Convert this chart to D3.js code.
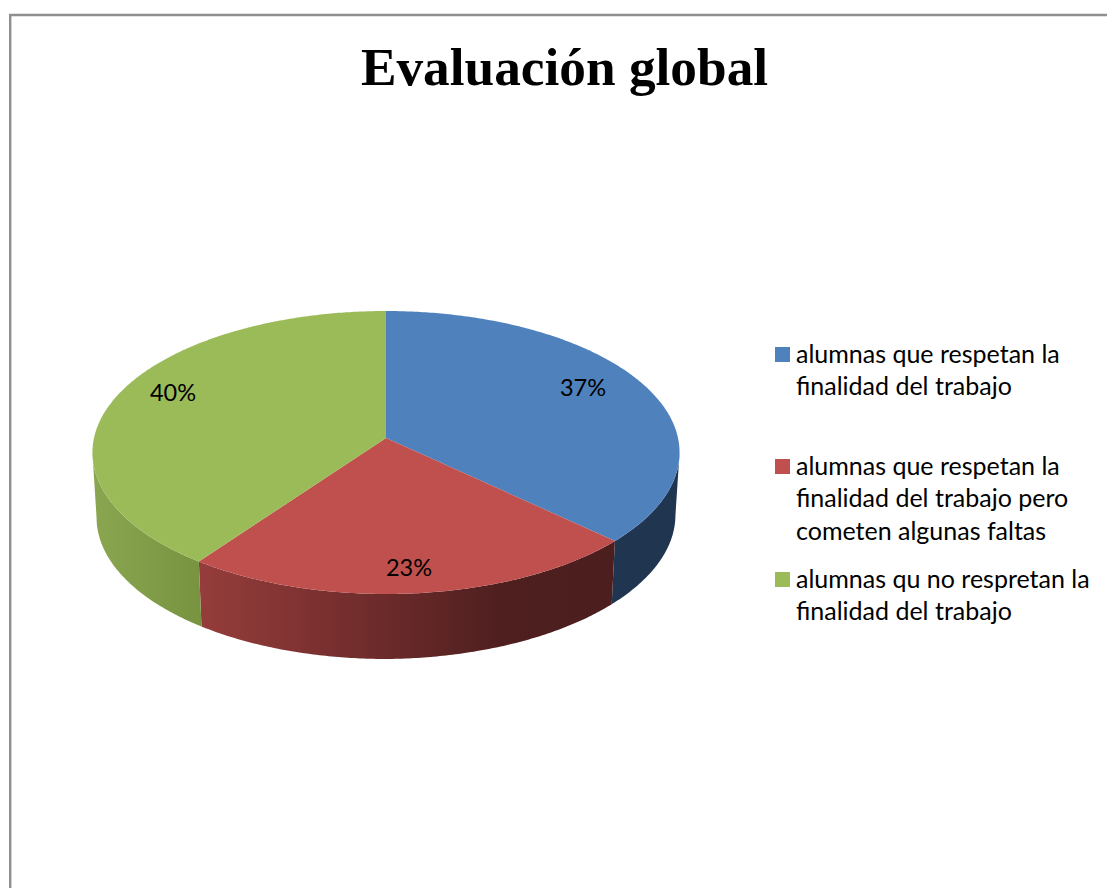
<!DOCTYPE html>
<html>
<head>
<meta charset="utf-8">
<script src="https://cdn.jsdelivr.net/npm/d3@7"></script>
<style>
    html, body { margin: 0; padding: 0; background: #fff; }
    svg { display: block; }
    .legend-text { font-family: Lato, sans-serif; font-size: 25px; fill: #000; }
    .pct { font-family: Lato, sans-serif; font-size: 23.5px; fill: #000; text-anchor: middle; }
    .title { font-family: "Liberation Serif", serif; font-weight: bold; font-size: 53.3px; text-anchor: middle; fill: #000; }
</style>
</head>
<body>
<div id="chart-container"></div>
<script>
// data
const categories = [
    ["alumnas que respetan la", "finalidad del trabajo"],
    ["alumnas que respetan la", "finalidad del trabajo pero", "cometen algunas faltas"],
    ["alumnas qu no respretan la", "finalidad del trabajo"]
];
const values = [37, 23, 40];
const colors = ["#4f81bd", "#c0504d", "#9bbb59"];
const sideStops = [
    [[0, "#1f3550"], [1, "#1f3550"]],
    [[0, "#953d3b"], [0.45, "#6c2a2a"], [0.72, "#4f1f1f"], [1, "#4c1e1e"]],
    [[0, "#8ba651"], [1, "#789440"]]
];
const labelPos = [[583, 396], [409, 576], [173, 401]];
const legendBaselines = [[362.5, 394.5], [474.5, 506.5, 539.5], [587.5, 619.5]];

const width = 1107, height = 888;
const cx = 386, cy = 438;
const a = 292, b = 140, k = 0.1025;   // perspective of the disc
const shrink = 0.986, depth = 65;

const svg = d3.select("#chart-container").append("svg")
    .attr("width", width)
    .attr("height", height);

// frame
svg.append("path")
    .attr("d", `M10.2,${height}V15H${width}`)
    .attr("fill", "none")
    .attr("stroke", "#8f8f8f")
    .attr("stroke-width", 2.4);

svg.append("text")
    .attr("class", "title")
    .attr("x", 564.5)
    .attr("y", 85)
    .text("Evaluación global");

// angle is clockwise from the top
function topPoint(t) {
    const u = Math.sin(t), w = -Math.cos(t);
    const p = 1 - k * w;
    return [cx + a * u / p, cy + b * w / p];
}
function bottomPoint(t) {
    const q = topPoint(t);
    const h = depth - 2.5 * Math.max(0, Math.sin(t));
    return [cx + (q[0] - cx) * shrink, q[1] + h];
}

const pie = d3.pie().sort(null);
const slices = pie(values);
const line = d3.line();

function arcAngles(s) {
    const n = Math.ceil((s.endAngle - s.startAngle) / 0.01);
    return d3.range(n + 1).map(i => s.startAngle + (s.endAngle - s.startAngle) * i / n);
}
// the wall is seen from the widest point of the disc forward
function frontAngles(s) {
    return arcAngles(s).filter(t => -Math.cos(t) >= k);
}

const defs = svg.append("defs");
sideStops.forEach((stops, i) => {
    const xs = d3.extent(frontAngles(slices[i]), t => topPoint(t)[0]);
    const grad = defs.append("linearGradient")
        .attr("id", "side" + i)
        .attr("gradientUnits", "userSpaceOnUse")
        .attr("x1", xs[0]).attr("x2", xs[1])
        .attr("y1", 0).attr("y2", 0);
    stops.forEach(s => {
        grad.append("stop").attr("offset", s[0]).attr("stop-color", s[1]);
    });
});

// sides first, tops over them
svg.append("g").selectAll("path")
    .data(slices)
    .enter()
    .append("path")
    .attr("d", s => {
        const ts = frontAngles(s);
        return line(ts.map(topPoint).concat(ts.slice().reverse().map(bottomPoint))) + "Z";
    })
    .attr("fill", (s, i) => `url(#side${i})`);

svg.append("g").selectAll("path")
    .data(slices)
    .enter()
    .append("path")
    .attr("d", s => line([[cx, cy]].concat(arcAngles(s).map(topPoint))) + "Z")
    .attr("fill", (s, i) => colors[i]);

// percent labels
svg.append("g").selectAll("text")
    .data(values)
    .enter()
    .append("text")
    .attr("class", "pct")
    .attr("x", (d, i) => labelPos[i][0])
    .attr("y", (d, i) => labelPos[i][1])
    .text(d => d + "%");

// legend
categories.forEach((lines, i) => {
    const g = svg.append("g");
    g.append("rect")
        .attr("x", 775)
        .attr("y", Math.floor(legendBaselines[i][0]) - 15)
        .attr("width", 15)
        .attr("height", 15)
        .attr("fill", colors[i]);
    lines.forEach((txt, j) => {
        g.append("text")
            .attr("class", "legend-text")
            .attr("x", 796)
            .attr("y", legendBaselines[i][j])
            .text(txt);
    });
});
</script>
</body>
</html>
